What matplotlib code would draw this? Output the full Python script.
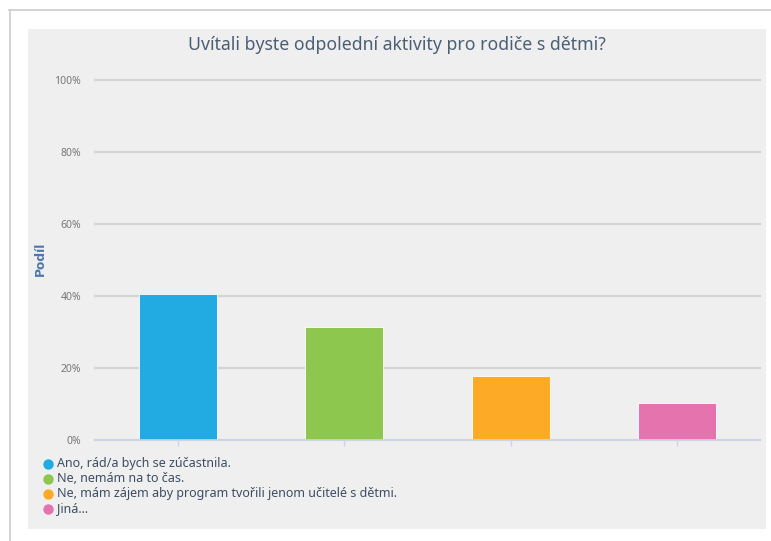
import matplotlib.pyplot as plt
from matplotlib.patches import Rectangle
from matplotlib.lines import Line2D
from matplotlib.ticker import PercentFormatter

plt.rcParams['font.family'] = ['Noto Sans', 'DejaVu Sans']

# odpovědi a jejich podíl (%)
answers = [
    'Ano, rád/a bych se zúčastnila.',
    'Ne, nemám na to čas.',
    'Ne, mám zájem aby program tvořili jenom učitelé s dětmi.',
    'Jiná...',
]
shares = [40.6, 31.3, 17.7, 10.4]
colors = ['#22aae2', '#8ec74d', '#fdab26', '#e573ae']
yticks = [0, 20, 40, 60, 80, 100]

W, H = 771, 541
fig = plt.figure(figsize=(W / 100, H / 100), dpi=100)
fig.patch.set_facecolor('white')

# rámeček stránky a šedé pozadí grafu
fig.add_artist(Line2D([9 / W, 1], [1 - 10 / H] * 2, color='#cccccc', lw=1.2))
fig.add_artist(Line2D([9.5 / W] * 2, [0, 1 - 10 / H], color='#cccccc', lw=1.2))
fig.add_artist(Rectangle((28 / W, 1 - 529 / H), (766 - 28) / W, (529 - 29) / H,
                         transform=fig.transFigure, facecolor='#efefef',
                         edgecolor='none', zorder=-1))

ax = fig.add_axes([95 / W, 1 - 440 / H, (760 - 95) / W, (440 - 80) / H])
ax.set_facecolor('none')

x = range(len(answers))
ax.bar(x, shares, width=0.47, color=colors, edgecolor='#ffffff', linewidth=0.6, zorder=3)

ax.set_xlim(-0.5, len(answers) - 0.5)
ax.set_ylim(0, 100)
ax.set_yticks(yticks)
ax.yaxis.set_major_formatter(PercentFormatter(decimals=0))
ax.grid(axis='y', color='#d4d4d4', linewidth=1.6, zorder=0)
for gl in ax.get_ygridlines():
    gl.set_clip_on(False)
ax.set_axisbelow(True)
for s in ['top', 'right', 'left']:
    ax.spines[s].set_visible(False)
ax.spines['bottom'].set_color('#c9d5e8')
ax.spines['bottom'].set_linewidth(1.2)
ax.spines['bottom'].set_zorder(4)
ax.set_xticks(list(x))
ax.set_xticklabels([])
ax.tick_params(axis='x', color='#c9d5e8', length=4, width=1)
ax.tick_params(axis='y', length=0, labelsize=7.5, labelcolor='#777777', pad=10)

fig.text(40 / W, 1 - 259 / H, 'Podíl', rotation=90, ha='center', va='center',
         color='#4a78ad', fontsize=8.8, fontweight='bold', family='DejaVu Sans')

fig.text(397 / W, 1 - 45 / H, 'Uvítali byste odpolední aktivity pro rodiče s dětmi?',
         ha='center', va='center', fontsize=12.7, color='#4d5f75')

# legenda pod grafem
for i, (label, c) in enumerate(zip(answers, colors)):
    yy = 1 - (464 + 15 * i) / H
    fig.add_artist(Line2D([48 / W], [yy], marker='o', markersize=7.5, color=c,
                          markeredgewidth=0, linestyle='none'))
    fig.text(57 / W, yy, label, ha='left', va='center', fontsize=9, color='#3d4d63')

fig.savefig('out.png', dpi=100, facecolor='white')
